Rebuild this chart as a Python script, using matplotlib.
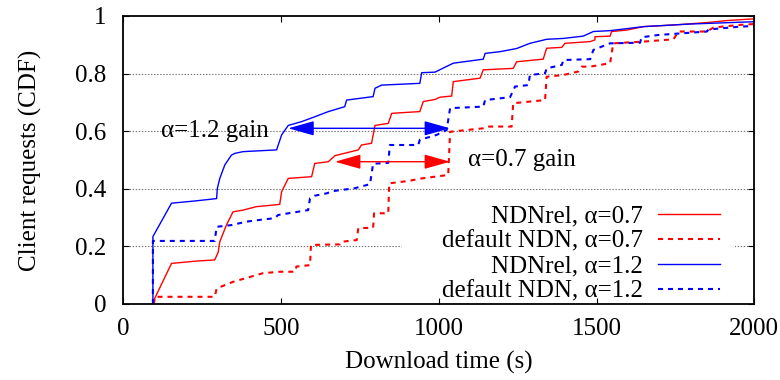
import matplotlib
matplotlib.use("Agg")
import matplotlib.pyplot as plt
from matplotlib.patches import Rectangle

plt.rcParams['font.family'] = ['Liberation Serif', 'DejaVu Serif']
plt.rcParams['lines.scale_dashes'] = False

# NDNrel, alpha=0.7 (red solid)
rel07_t = [97, 100, 153, 232, 290, 301, 306, 327, 348, 380, 422, 480, 496, 502, 523, 597, 607, 650,
           671, 745, 755, 787, 798, 840, 851, 940, 951, 988, 1004, 1041, 1046, 1131, 1141, 1236, 1247,
           1331, 1342, 1390, 1400, 1480, 1495, 1495, 1543, 1548, 1596, 1649, 1749, 1850, 1913, 2000]
rel07_y = [0.0, 0.02, 0.141, 0.149, 0.153, 0.18, 0.216, 0.274, 0.32, 0.326, 0.338, 0.344, 0.346, 0.39,
           0.436, 0.442, 0.488, 0.494, 0.515, 0.535, 0.552, 0.558, 0.62, 0.627, 0.662, 0.668, 0.703,
           0.71, 0.718, 0.722, 0.772, 0.784, 0.813, 0.818, 0.841, 0.85, 0.888, 0.891, 0.905, 0.911,
           0.917, 0.928, 0.93, 0.946, 0.951, 0.963, 0.969, 0.977, 0.984, 0.99]

# default NDN, alpha=0.7 (red dashed)
def07_t = [97, 100, 290, 296, 348, 443, 496, 544, 549, 592, 595, 687, 692, 740, 745, 792, 795, 840,
           843, 903, 946, 988, 1030, 1036, 1141, 1152, 1231, 1236, 1337, 1342, 1395, 1442, 1453, 1480,
           1543, 1548, 1553, 1649, 1744, 1760, 1850, 1871, 1955, 2000]
def07_y = [0.0, 0.025, 0.025, 0.054, 0.077, 0.107, 0.112, 0.112, 0.13, 0.135, 0.205, 0.207, 0.216,
           0.222, 0.263, 0.265, 0.315, 0.315, 0.419, 0.427, 0.436, 0.442, 0.448, 0.598, 0.61, 0.616,
           0.616, 0.697, 0.708, 0.789, 0.795, 0.807, 0.824, 0.824, 0.836, 0.87, 0.905, 0.911, 0.919,
           0.946, 0.946, 0.96, 0.969, 0.972]

# NDNrel, alpha=1.2 (blue solid)
rel12_t = [94, 94, 153, 230, 296, 298, 306, 322, 343, 354, 380, 486, 502, 523, 565, 607, 650, 702,
           708, 792, 798, 819, 940, 946, 988, 1046, 1141, 1147, 1194, 1247, 1289, 1342, 1395, 1458,
           1490, 1543, 1649, 1797, 2000]
rel12_y = [0.0, 0.234, 0.35, 0.358, 0.366, 0.40, 0.436, 0.483, 0.517, 0.523, 0.529, 0.535, 0.587,
           0.62, 0.633, 0.65, 0.668, 0.685, 0.708, 0.72, 0.749, 0.76, 0.766, 0.803, 0.805, 0.836,
           0.85, 0.87, 0.876, 0.887, 0.905, 0.919, 0.922, 0.93, 0.946, 0.949, 0.963, 0.972, 0.98]

# default NDN, alpha=1.2 (blue dashed)
def12_t = [94, 94, 290, 296, 343, 391, 433, 480, 491, 586, 592, 607, 644, 665, 734, 782, 792, 840,
           845, 935, 940, 993, 1025, 1036, 1136, 1141, 1147, 1226, 1242, 1284, 1289, 1337, 1342,
           1390, 1395, 1480, 1490, 1543, 1638, 1643, 1696, 1850, 1855, 1955, 2000]
def12_y = [0.0, 0.219, 0.219, 0.268, 0.274, 0.286, 0.292, 0.298, 0.309, 0.326, 0.367, 0.376, 0.384,
           0.392, 0.402, 0.416, 0.487, 0.49, 0.552, 0.552, 0.57, 0.587, 0.604, 0.68, 0.685, 0.685,
           0.708, 0.718, 0.755, 0.76, 0.795, 0.801, 0.818, 0.83, 0.847, 0.85, 0.882, 0.905, 0.907,
           0.926, 0.934, 0.946, 0.953, 0.963, 0.965]

# gain arrows: (start, end, level)
gain12 = (523, 1036, 0.61)
gain07 = (671, 1036, 0.494)

fig = plt.figure(figsize=(7.8, 3.8), dpi=100)
ax = fig.add_axes([0.158, 0.2, 0.809, 0.758])

dash = (0, (3.6, 3.6))
ax.plot(rel07_t, rel07_y, color='#ff0000', lw=1.0, label='NDNrel, \u03b1=0.7')
ax.plot(def07_t, def07_y, color='#ff0000', lw=1.5, linestyle=dash, label='default NDN, \u03b1=0.7')
ax.plot(rel12_t, rel12_y, color='#0000ff', lw=1.0, label='NDNrel, \u03b1=1.2')
ax.plot(def12_t, def12_y, color='#0000ff', lw=1.5, linestyle=dash, label='default NDN, \u03b1=1.2')

# arrows and labels
ax.annotate('', xy=(gain12[0], gain12[2]), xytext=(gain12[1], gain12[2]),
            arrowprops=dict(arrowstyle='<|-|>,head_length=16,head_width=4.5', mutation_scale=1,
                            color='#0000ff', lw=1.0, shrinkA=0, shrinkB=0))
ax.annotate('', xy=(gain07[0], gain07[2]), xytext=(gain07[1], gain07[2]),
            arrowprops=dict(arrowstyle='<|-|>,head_length=16,head_width=4.5', mutation_scale=1,
                            color='#ff0000', lw=1.0, shrinkA=0, shrinkB=0))
ax.text(290, 0.6, '\u03b1=1.2 gain', fontsize=18, ha='center', va='center')
ax.text(1265, 0.5, '\u03b1=0.7 gain', fontsize=18, ha='center', va='center')

ax.set_xlim(0, 2000)
ax.set_ylim(0, 1)
ax.set_xticks([0, 500, 1000, 1500, 2000])
ax.set_yticks([0, 0.2, 0.4, 0.6, 0.8, 1])
ax.set_yticklabels(['0', '0.2', '0.4', '0.6', '0.8', '1'])
ax.tick_params(direction='in', length=4, width=0.8, top=True, right=True, labelsize=18)
ax.tick_params(axis='x', pad=10)
ax.tick_params(axis='y', pad=12)
for s in ax.spines.values():
    s.set_linewidth(1.3)

for yv in [0.2, 0.4, 0.6, 0.8]:
    ax.axhline(yv, color='0.45', lw=0.8, linestyle=(0, (1, 1.2)), zorder=1)

# white key box hides the grid behind the legend
ax.add_patch(Rectangle((0.442, 0.003), 0.528, 0.372, transform=ax.transAxes,
                       facecolor='white', edgecolor='none', zorder=1.5))

ax.legend(loc='lower right', bbox_to_anchor=(0.946, 0.005), frameon=False, fontsize=18,
          markerfirst=False, handlelength=2.5, handletextpad=0.6, labelspacing=0.1,
          borderpad=0, borderaxespad=0)

ax.set_xlabel('Download time (s)', fontsize=18, labelpad=8)
ax.set_ylabel('Client requests (CDF)', fontsize=18, labelpad=24)

fig.savefig('out.png', dpi=100)
